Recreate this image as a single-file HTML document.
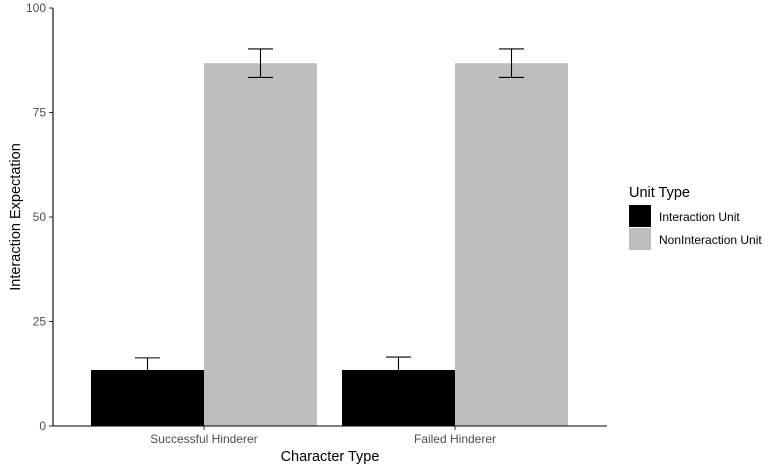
<!DOCTYPE html>
<html><head><meta charset="utf-8"><style>
body{margin:0;background:#fff;font-family:"Liberation Sans",Arial,sans-serif}
svg text{font-family:"Liberation Sans",Arial,sans-serif}
</style></head><body>
<svg id="c" width="779" height="471" xmlns="http://www.w3.org/2000/svg"></svg>
<script>
const categories=["Successful Hinderer","Failed Hinderer"];
const seriesNames=["Interaction Unit","NonInteraction Unit"];
const interactionVals=[13.4,13.4];
const interactionErr=[2.9,3.1];
const nonInteractionVals=[86.8,86.8];
const nonInteractionErr=[3.4,3.4];
const yTicks=[0,25,50,75,100];
const colors=["#000000","#bebebe"];
const svg=document.getElementById('c');
const NS="http://www.w3.org/2000/svg";
const y0=426,y100=8;
const y=v=>y0-(y0-y100)*v/100;
const plotL=53,plotR=607;
const firstCenter=204,step=251;
const xc=i=>firstCenter+step*i;
const bw=113;
function el(t,a,name){const e=document.createElementNS(NS,t);for(const k in a)e.setAttribute(k,a[k]);


svg.appendChild(e);return e;}
function txt(s,a,name){const e=el('text',a,name);e.textContent=s;return e;}
const series=[[interactionVals,interactionErr],[nonInteractionVals,nonInteractionErr]];
categories.forEach((c,i)=>{
 series.forEach((s,j)=>{
  const x=xc(i)-bw+j*bw;
  el('rect',{x:x,y:y(s[0][i]),width:bw,height:y0-y(s[0][i]),fill:colors[j]},'bar-'+j+'-'+i);
 });
 series.forEach((s,j)=>{
  const cx=xc(i)-bw/2+j*bw;
  const hi=y(s[0][i]+s[1][i]),lo=y(s[0][i]-s[1][i]);
  el('line',{x1:cx,x2:cx,y1:hi,y2:lo,stroke:'#000','stroke-width':1.1},'error-bar-'+j+'-'+i);
  el('line',{x1:cx-12.5,x2:cx+12.5,y1:hi,y2:hi,stroke:'#000','stroke-width':1.1},'error-cap-top');
  el('line',{x1:cx-12.5,x2:cx+12.5,y1:lo,y2:lo,stroke:'#000','stroke-width':1.1},'error-cap-bottom');
 });
 el('line',{x1:xc(i),x2:xc(i),y1:y0,y2:y0+4,stroke:'#333'},'x-tick');
 txt(c,{x:xc(i),y:443,'text-anchor':'middle','font-size':12,fill:'#4d4d4d'},'x-tick-label');
});
yTicks.forEach(t=>{
 el('line',{x1:plotL-4,x2:plotL,y1:y(t),y2:y(t),stroke:'#333'},'y-tick');
 txt(String(t),{x:plotL-7,y:y(t)+4,'text-anchor':'end','font-size':12,fill:'#4d4d4d'},'y-tick-label');
});
el('line',{x1:plotL,x2:plotL,y1:y100,y2:y0+0.5,stroke:'#000','stroke-width':1.1},'y-axis-line');
el('line',{x1:plotL,x2:plotR,y1:y0,y2:y0,stroke:'#000','stroke-width':1.1},'x-axis-line');
txt('Character Type',{x:330,y:461,'text-anchor':'middle','font-size':14.5,fill:'#000'},'x-axis-title');
txt('Interaction Expectation',{x:0,y:0,transform:'translate(20,217) rotate(-90)','text-anchor':'middle','font-size':14.5,fill:'#000'},'y-axis-title');
txt('Unit Type',{x:629,y:197,'font-size':14.5,fill:'#000'},'legend-title');
seriesNames.forEach((n,j)=>{
 el('rect',{x:629,y:205+j*23,width:22,height:22,fill:colors[j]},'legend-key');
 txt(n,{x:659,y:221+j*23,'font-size':12,fill:'#000'},'legend-entry');
});
</script>
</body></html>
